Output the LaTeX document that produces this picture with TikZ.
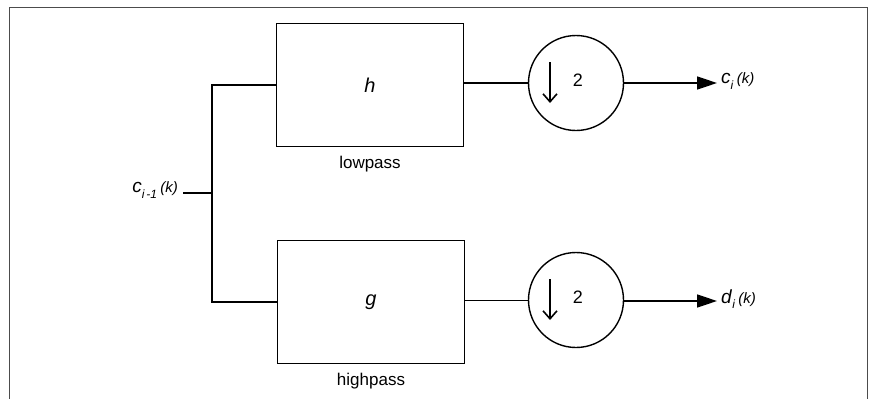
\documentclass[tikz,border=0pt]{standalone}
\usepackage{fontspec}
\setmainfont{Liberation Sans}
\usetikzlibrary{arrows.meta}

% signal name with subscript and a smaller argument, e.g. c_i (k)
\newcommand\signame[2]{\textit{#1}\raisebox{-0.55ex}{\fontsize{12}{13}\selectfont\textit{#2}}\,{\fontsize{15}{16}\selectfont\textit{(k)}}}

\begin{document}
\begin{tikzpicture}[x=1pt,y=-1pt,
  filterbox/.style={draw,line width=1.6pt,minimum width=187pt,minimum height=123pt,inner sep=0pt,font=\fontsize{20}{22}\selectfont\itshape},
  downsampler/.style={draw,circle,line width=1.4pt,minimum size=95pt,inner sep=0pt},
  boxlabel/.style={font=\fontsize{17}{19}\selectfont},
  siglabel/.style={font=\fontsize{19}{21}\selectfont,inner sep=0pt},
  thickwire/.style={line width=1.6pt},
  thinwire/.style={line width=0.9pt},
  outarrow/.style={line width=1.6pt,-{Triangle[length=20pt,width=13pt]}},
  frameline/.style={line width=0.8pt,black!70}]
  \useasboundingbox (0,0) rectangle (871,399);

  % frame, open at the bottom
  \draw[frameline] (9,399) -- (9,7) -- (867,7) -- (867,399);

  % filters
  \node[filterbox] (hbox) at (370,85) {h};
  \node[filterbox] (gbox) at (371,302) {g};
  \node[boxlabel,anchor=north] (lowpass) at ([yshift=-5pt]hbox.south) {lowpass};
  \node[boxlabel,anchor=north] (highpass) at ([yshift=-5pt]gbox.south) {highpass};

  % downsamplers by 2
  \node[downsampler] (hdown) at (576,83) {};
  \node[downsampler] (gdown) at (576,300) {};
  \foreach \d in {hdown,gdown}{
    \draw[line width=1.6pt,-{Straight Barb[length=8pt,width=14pt]}]
      ([shift={(-26,-21)}]\d.center) -- ([shift={(-26,20)}]\d.center);
    \node[font=\fontsize{18}{20}\selectfont] at ([shift={(2,-3)}]\d.center) {2};
  }

  % input and branch point
  \node[siglabel,anchor=east] (input) at (178,190) {\signame{c}{i\,-1}};
  \coordinate (branch) at (212,193);
  \draw[thickwire] (183,193) -- (branch);
  \draw[thickwire] (hbox.west) -| (branch) |- (gbox.west);

  % filter to downsampler
  \draw[thickwire] (hbox.east |- hdown) -- (hdown.west);
  \draw[thinwire] (gbox.east |- gdown) -- (gdown.west);

  % outputs
  \coordinate (cend) at (717,83);
  \coordinate (dend) at (717,301);
  \draw[outarrow] (hdown.east) -- (cend);
  \draw[outarrow] (gdown.east |- dend) -- (dend);
  \node[siglabel,anchor=west] (cout) at ([xshift=4pt,yshift=2pt]cend) {\signame{c}{i}};
  \node[siglabel,anchor=west] (dout) at ([xshift=4pt,yshift=2pt]dend) {\signame{d}{i}};
\end{tikzpicture}
\end{document}
